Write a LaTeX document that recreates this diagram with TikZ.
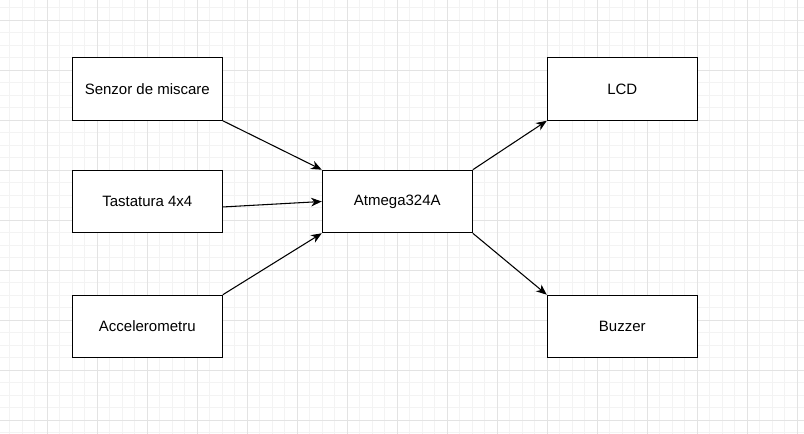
\documentclass[tikz,border=0pt]{standalone}
\usepackage{fontspec}
\setmainfont{Liberation Sans}
\usetikzlibrary{positioning,arrows.meta}

\definecolor{gridminor}{HTML}{F3F3F3}
\definecolor{gridmajor}{HTML}{E3E3E3}

\tikzset{
    block/.style={draw, fill=white, line width=0.8pt, minimum width=112.5pt,
        minimum height=46.875pt, inner sep=0pt, font=\fontsize{11.25}{13}\selectfont},
    link/.style={line width=0.8pt, -{Stealth[length=8pt,width=6.5pt,inset=2.5pt]}}
}

\begin{document}
\begin{tikzpicture}[x=0.75pt,y=-0.75pt,on grid]
    % background and grid
    \fill[white] (0,0) rectangle (804,434);
    \useasboundingbox (0,0) rectangle (804,434);
    \foreach \x in {9.8,22.3,...,800} \draw[gridminor,line width=0.75pt] (\x,0) -- (\x,434);
    \foreach \y in {7.8,20.3,...,434} \draw[gridminor,line width=0.75pt] (0,\y) -- (804,\y);
    \foreach \x in {47.3,97.3,...,800} \draw[gridmajor,line width=0.75pt] (\x,0) -- (\x,434);
    \foreach \y in {20.3,70.3,...,434} \draw[gridmajor,line width=0.75pt] (0,\y) -- (804,\y);

    % blocks
    \node[block]  (atm)  at (397.3,201.5) {Atmega324A};
    \node[block]  (tast) [left=187.5pt of atm] {Tastatura 4x4};
    \node[block]  (senz) [above=84.375pt of tast] {Senzor de miscare};
    \node[block]  (acc)  [below=93.75pt of tast] {Accelerometru};
    \node[block]  (lcd)  [above right=84.375pt and 168.75pt of atm] {LCD};
    \node[block]  (buz)  [below right=93.75pt and 168.75pt of atm] {Buzzer};

    % connections
    \draw[link] (senz.south east) -- (atm.north west);
    \draw[link] ([yshift=-4.1pt]tast.east) -- (atm.west);
    \draw[link] (acc.north east) -- (atm.south west);
    \draw[link] (atm.north east) -- (lcd.south west);
    \draw[link] (atm.south east) -- (buz.north west);
\end{tikzpicture}
\end{document}
